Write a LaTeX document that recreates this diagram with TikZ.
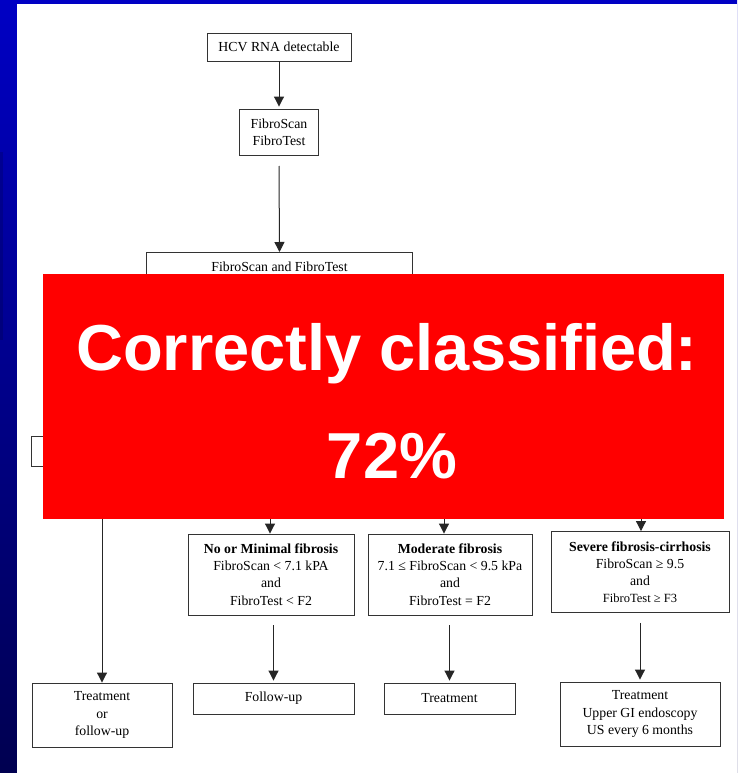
\documentclass[tikz,border=0pt]{standalone}
\usepackage{fontspec}
\setmainfont{Liberation Serif}
\newfontfamily\slidefont{Liberation Sans}
\usetikzlibrary{arrows.meta}
\definecolor{slidetop}{RGB}{0,0,196}
\definecolor{slidebottom}{RGB}{0,0,80}
\definecolor{overlayred}{RGB}{255,0,0}
\begin{document}
\begin{tikzpicture}[x=1pt, y=-1pt,
	box/.style={draw=black!80, line width=0.9pt, fill=white, align=center, inner sep=3pt,
		font=\fontsize{13.8}{17.2}\selectfont},
	arr/.style={draw=black!85, line width=1pt, -{Triangle[length=10pt,width=10pt]}}]
	\useasboundingbox (0,0) rectangle (737,773);
	% slide background
	\shade[top color=slidetop, bottom color=slidebottom] (0,0) rectangle (737,773);
	\fill[slidetop] (0,0) rectangle (737,4);
	\fill[black, opacity=0.15] (0,152) rectangle (3,340);
	\fill[white] (17,4) rectangle (737,773);

	% flow chart
	\node[box, minimum width=144pt, minimum height=28pt] (hcv) at (279,47) {HCV RNA detectable};
	\node[box, minimum width=79pt, minimum height=46pt] (scans) at (279,132) {FibroScan\\FibroTest};
	\coordinate (gap) at (279,166);
	\node[box, anchor=north, minimum width=266pt, inner ysep=9pt, text depth=40pt] (both) at (279.5,252) {FibroScan and FibroTest};
	\node[box, anchor=north west, minimum width=90pt, minimum height=30pt] (disc) at (31,436) {};

	\coordinate (c1) at (102,505);
	\coordinate (c2) at (270,505);
	\coordinate (c3) at (444,505);
	\coordinate (c4) at (641,505);

	\node[box, minimum width=166pt, minimum height=81pt] (mild) at (271,574.5)
		{\textbf{No or Minimal fibrosis}\\FibroScan < 7.1 kPA\\and\\FibroTest < F2};
	\node[box, minimum width=164pt, minimum height=81pt] (moderate) at (450,574.5)
		{\textbf{Moderate fibrosis}\\7.1 ≤ FibroScan < 9.5 kPa\\and\\FibroTest = F2};
	\node[box, minimum width=178pt, minimum height=81pt] (severe) at (640,572)
		{\textbf{Severe fibrosis-cirrhosis}\\FibroScan ≥ 9.5\\and\\{\fontsize{12.5}{17}\selectfont FibroTest ≥ F3}};

	\node[box, minimum width=140pt, minimum height=64pt] (treatA) at (102,715) {Treatment\\or\\follow-up};
	\node[box, minimum width=161pt, minimum height=31pt] (follow) at (273.5,698.5) {Follow-up};
	\node[box, minimum width=131pt, minimum height=31pt] (treatB) at (449.5,698.5) {Treatment};
	\node[box, minimum width=160pt, minimum height=64pt] (treatC) at (640,714)
		{Treatment\\Upper GI endoscopy\\US every 6 months};

	\draw[arr, shorten >=2pt] (hcv.south) -- (scans.north);
	\draw[arr] (gap) -- (both.north);
	\draw[arr] (c1) -- (c1 |- treatA.north);
	\draw[arr] (c2) -- (c2 |- mild.north);
	\draw[arr] (c3) -- (c3 |- moderate.north);
	\draw[arr] (c4) -- (c4 |- severe.north);
	\draw[arr, shorten <=10pt, shorten >=2pt] (mild.south -| follow.north) -- (follow.north);
	\draw[arr, shorten <=10pt, shorten >=2pt] (moderate.south -| treatB.north) -- (treatB.north);
	\draw[arr, shorten <=10pt, shorten >=2pt] (severe.south -| treatC.north) -- (treatC.north);

	% overlay
	\fill[overlayred] (43,274) rectangle (724,519);
	\node[white, anchor=base, inner sep=0pt, font=\slidefont\bfseries\fontsize{65}{78}\selectfont] (result) at (387,370) {Correctly classified:};
	\node[white, anchor=base, inner sep=0pt, font=\slidefont\bfseries\fontsize{65}{78}\selectfont] (share) at (392,478) {72\%};
\end{tikzpicture}
\end{document}
